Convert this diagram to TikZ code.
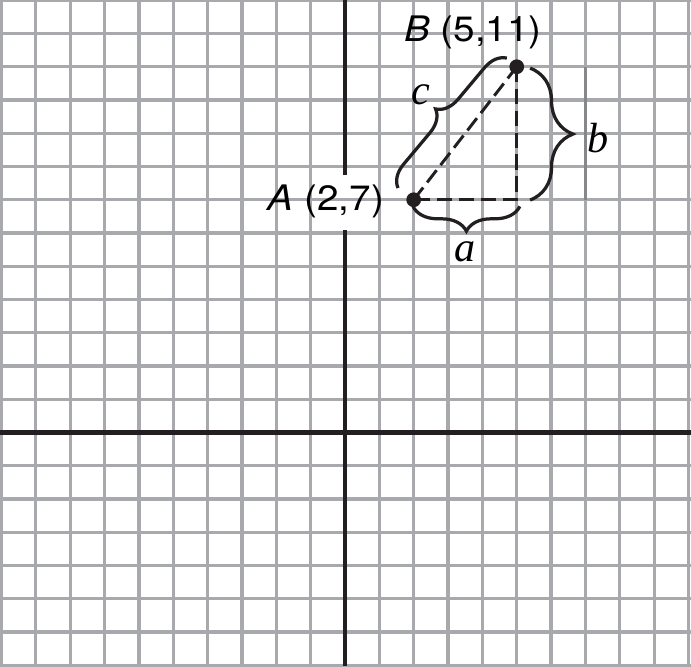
\documentclass[tikz,border=0pt]{standalone}
\usepackage{fontspec}
\usepackage{xcolor}
\usepackage{tikz}
\usetikzlibrary{calc, decorations.pathreplacing}
\setmainfont{TeX Gyre Heros}
\newfontfamily\ptfont[FakeStretch=1.1]{TeX Gyre Heros}
\newfontfamily\varfont{Liberation Serif}
\definecolor{gridgray}{HTML}{A7A9AC}
\definecolor{griddark}{HTML}{85878A}
\definecolor{ink}{HTML}{231F20}
\newcommand{\fsPoint}{\fontsize{25}{29}\selectfont\ptfont}
\newcommand{\fsVar}{\fontsize{30}{34}\selectfont\varfont\itshape}

\begin{document}
\begin{tikzpicture}[x=0.85875cm, y=0.83125cm,
  gridline/.style={gridgray, line width=2.3pt},
  axisline/.style={ink, line width=3.4pt},
  dashline/.style={ink, line width=2.1pt, dash pattern=on 11pt off 4.6pt},
  bracket/.style={ink, line width=2.3pt, decorate, decoration={brace, amplitude=#1}},
  dot/.style={circle, fill=ink, inner sep=0pt, minimum size=10.5pt},
  every node/.style={inner sep=0pt}]
  \useasboundingbox (-10.044,-7.023) rectangle (10.073,13.008);
  \fill[white] (-10.044,-7.023) rectangle (10.073,13.008);

  % grid
  \foreach \i in {-10,...,-1,1,2,...,10}
    \draw[gridline] (\i,-7.023) -- (\i,13.008);
  \foreach \j in {-7,...,13}
    \draw[gridline] (-10.044,\j) -- (10.073,\j);
  \draw[griddark, line width=2.3pt] (7,7) -- (7,11);

  % axes (vertical one broken under the label of A)
  \draw[axisline] (-10.044,0) -- (10.073,0);
  \draw[axisline] (0,-7.023) -- (0,6.09);
  \draw[axisline] (0,7.74) -- (0,13.008);

  % the two points and the right angle corner
  \node[dot] (A) at (2,7) {};
  \node[dot] (B) at (5,11) {};
  \coordinate (C) at (5,7);
  \draw[dashline] (A.center) -- (B.center);
  \draw[dashline] (B.center) -- (C) -- (A.center);

  \node[font=\fsPoint, anchor=base] (Alabel) at (-0.553,6.69) {\textit{A} (2,7)};
  \node[font=\fsPoint, anchor=base] (Blabel) at (3.726,11.75) {\textit{B} (5,11)};

  % braces
  \draw[bracket=0.62cm] (5.09,6.8) -- (1.98,6.8);
  \draw[bracket=1.07cm] (5.39,10.96) -- (5.39,6.99);
  \draw[bracket=0.55cm] (1.543,7.353) -- (4.716,11.263);

  \node[font=\fsVar] (alabel) at (3.49,5.43) {a};
  \node[font=\fsVar] (blabel) at (7.37,8.86) {b};
  \node[font=\fsVar] (clabel) at (2.21,10.15) {c};
\end{tikzpicture}
\end{document}
